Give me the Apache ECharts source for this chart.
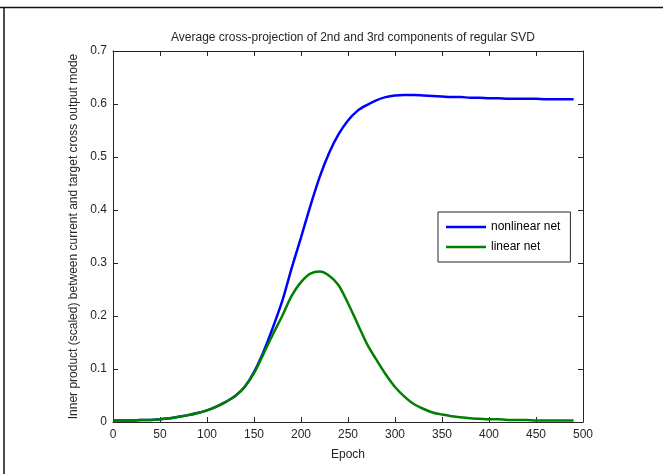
<!DOCTYPE html>
<html>
<head>
<meta charset="utf-8">
<script src="https://cdn.jsdelivr.net/npm/echarts@6/dist/echarts.min.js"></script>
<style>
  html, body { margin: 0; padding: 0; background: #fff; }
  #chart { width: 663px; height: 474px; }
</style>
</head>
<body>
<div id="chart"></div>
<script>
// epochs sampled every 10
var epochs = [0, 10, 20, 30, 40, 50, 60, 70, 80, 90, 100, 110, 120, 130, 140, 150, 160, 170, 180, 190,
  200, 210, 220, 230, 240, 250, 260, 270, 280, 290, 300, 310, 320, 330, 340, 350, 360, 370, 380, 390,
  400, 410, 420, 430, 440, 450, 460, 470, 480, 490];

var nonlinearNet = [0.003, 0.003, 0.003, 0.004, 0.004, 0.005, 0.007, 0.010, 0.013, 0.017,
  0.022, 0.029, 0.038, 0.049, 0.066, 0.094, 0.132, 0.178, 0.228, 0.290,
  0.348, 0.408, 0.463, 0.508, 0.543, 0.569, 0.587, 0.598, 0.607, 0.613,
  0.616, 0.617, 0.617, 0.616, 0.615, 0.614, 0.613, 0.613, 0.612, 0.612,
  0.611, 0.611, 0.610, 0.610, 0.610, 0.610, 0.609, 0.609, 0.609, 0.609];

var linearNet = [0.003, 0.003, 0.003, 0.004, 0.004, 0.005, 0.007, 0.010, 0.013, 0.017,
  0.022, 0.029, 0.038, 0.049, 0.066, 0.092, 0.128, 0.165, 0.200, 0.238,
  0.264, 0.280, 0.284, 0.276, 0.258, 0.224, 0.186, 0.148, 0.118, 0.090,
  0.066, 0.048, 0.034, 0.025, 0.018, 0.014, 0.011, 0.009, 0.007, 0.006,
  0.005, 0.005, 0.004, 0.004, 0.004, 0.003, 0.003, 0.003, 0.003, 0.003];

function pairs(ys) {
  return epochs.map(function (x, i) { return [x, ys[i]]; });
}

var chart = echarts.init(document.getElementById('chart'));

var font = 'Liberation Sans, Arial, sans-serif';
var axisLine = { show: true, onZero: false, lineStyle: { color: '#262626', width: 1 } };
var tick = { show: true, inside: true, length: 5, lineStyle: { color: '#262626' } };
// thin bar used as the legend's line sample
var lineIcon = 'path://M0,0 L40,0 L40,2.5 L0,2.5 Z';

option = {
  animation: false,
  backgroundColor: '#fff',
  title: {
    text: 'Average cross-projection of 2nd and 3rd components of regular SVD',
    left: 348,
    top: 27,
    textAlign: 'center',
    textStyle: { fontFamily: font, fontSize: 12, fontWeight: 'normal', color: '#262626' }
  },
  grid: { left: 113, right: 80, top: 51, bottom: 52 },
  legend: {
    orient: 'vertical',
    left: 438,
    top: 212,
    itemWidth: 40,
    itemHeight: 14,
    itemGap: 8,
    padding: [9, 10, 9, 8],
    borderColor: '#262626',
    borderWidth: 1,
    borderRadius: 0,
    backgroundColor: '#fff',
    icon: lineIcon,
    textStyle: { fontFamily: font, fontSize: 12, color: '#000' },
    data: ['nonlinear net', 'linear net']
  },
  xAxis: [{
    type: 'value',
    min: 0, max: 500, interval: 50,
    name: 'Epoch',
    nameLocation: 'middle',
    nameGap: 27,
    nameTextStyle: { fontFamily: font, fontSize: 12, color: '#262626' },
    axisLine: axisLine,
    axisTick: tick,
    axisLabel: { fontFamily: font, fontSize: 12, color: '#262626', margin: 7 },
    splitLine: { show: false }
  }, {
    type: 'value', position: 'top',
    min: 0, max: 500, interval: 50,
    axisLine: axisLine,
    axisTick: tick,
    axisLabel: { show: false },
    splitLine: { show: false }
  }],
  yAxis: [{
    type: 'value',
    min: 0, max: 0.7, interval: 0.1,
    name: 'Inner product (scaled) between current and target cross output mode',
    nameLocation: 'middle',
    nameGap: 30,
    nameTextStyle: { fontFamily: font, fontSize: 12, color: '#262626' },
    axisLine: axisLine,
    axisTick: tick,
    axisLabel: { fontFamily: font, fontSize: 12, color: '#262626', margin: 6 },
    splitLine: { show: false }
  }, {
    type: 'value', position: 'right',
    min: 0, max: 0.7, interval: 0.1,
    axisLine: axisLine,
    axisTick: tick,
    axisLabel: { show: false },
    splitLine: { show: false }
  }],
  graphic: [
    { type: 'line', shape: { x1: 0, y1: 7.5, x2: 663, y2: 7.5 }, style: { stroke: '#111', lineWidth: 1.5 } },
    { type: 'line', shape: { x1: 4, y1: 7.5, x2: 4, y2: 474 }, style: { stroke: '#111', lineWidth: 1.5 } }
  ],
  series: [{
    name: 'nonlinear net',
    type: 'line',
    symbol: 'none',
    smooth: 0.3,
    color: '#0000ff',
    lineStyle: { width: 2.5, color: '#0000ff' },
    data: pairs(nonlinearNet)
  }, {
    name: 'linear net',
    type: 'line',
    symbol: 'none',
    smooth: 0.3,
    color: '#008000',
    lineStyle: { width: 2.5, color: '#008000' },
    data: pairs(linearNet)
  }]
};

chart.setOption(option);
</script>
</body>
</html>
